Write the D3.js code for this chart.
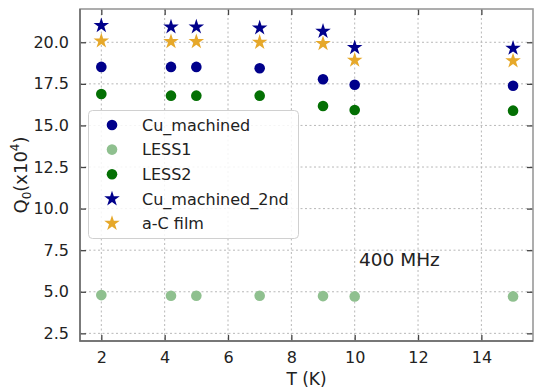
<!DOCTYPE html>
<html><head><meta charset="utf-8">
<script src="https://cdn.jsdelivr.net/npm/d3@7"></script>
<style>body{margin:0;background:#fff;} svg{display:block;font-family:"DejaVu Sans",sans-serif;}</style>
</head><body>
<svg id="c" width="536" height="388"></svg>
<script>
const T = [2, 4.2, 5, 7, 9, 10, 15];
const cuMachined = [18.52, 18.52, 18.52, 18.44, 17.78, 17.45, 17.39];
const less1 = [4.80, 4.76, 4.76, 4.76, 4.74, 4.72, 4.72];
const less2 = [16.89, 16.79, 16.79, 16.79, 16.17, 15.93, 15.89];
const cuMachined2nd = [21.0, 20.92, 20.92, 20.86, 20.66, 19.68, 19.64];
const aCfilm = [20.08, 20.04, 20.04, 20.0, 19.92, 18.92, 18.88];
const xTicks = [2, 4, 6, 8, 10, 12, 14];
const yTicks = [2.5, 5.0, 7.5, 10.0, 12.5, 15.0, 17.5, 20.0];

const series = [
  {name: "Cu_machined", values: cuMachined, color: "#00008b", shape: "circle"},
  {name: "LESS1", values: less1, color: "#8fc08f", shape: "circle"},
  {name: "LESS2", values: less2, color: "#047004", shape: "circle"},
  {name: "Cu_machined_2nd", values: cuMachined2nd, color: "#00008b", shape: "star"},
  {name: "a-C film", values: aCfilm, color: "#e6a82a", shape: "star"}
];

const svg = d3.select("#c");
const L = 80, R = 533, Tp = 9, B = 341;
const x = d3.scaleLinear().domain([1.327, 15.63]).range([L, R]);
const y = d3.scaleLinear().domain([2.04, 22.0]).range([B, Tp]);

// grid
const g = svg.append("g");
g.selectAll(".gx").data(xTicks).join("line")
  .attr("x1", d => x(d)).attr("x2", d => x(d)).attr("y1", Tp).attr("y2", B)
  .attr("stroke", "#b8b8b8").attr("stroke-width", 1).attr("stroke-dasharray", "2,2.5");
g.selectAll(".gy").data(yTicks).join("line")
  .attr("x1", L).attr("x2", R).attr("y1", d => y(d)).attr("y2", d => y(d))
  .attr("stroke", "#b8b8b8").attr("stroke-width", 1).attr("stroke-dasharray", "2,2.5");

// axes with inward ticks
const axB = svg.append("g").attr("transform", `translate(0,${B})`)
  .call(d3.axisBottom(x).tickValues(xTicks).tickFormat(d3.format("d")).tickSizeInner(-6).tickSizeOuter(0).tickPadding(11));
const axL = svg.append("g").attr("transform", `translate(${L},0)`)
  .call(d3.axisLeft(y).tickValues(yTicks).tickFormat(d3.format(".1f")).tickSizeInner(-6).tickSizeOuter(0).tickPadding(11));
const axT = svg.append("g").attr("transform", `translate(0,${Tp})`)
  .call(d3.axisTop(x).tickValues(xTicks).tickFormat("").tickSizeInner(-6).tickSizeOuter(0));
const axR = svg.append("g").attr("transform", `translate(${R},0)`)
  .call(d3.axisRight(y).tickValues(yTicks).tickFormat("").tickSizeInner(-6).tickSizeOuter(0));
[axB, axL, axT, axR].forEach(a => {
  a.select(".domain").remove();
  a.selectAll(".tick line").attr("stroke", "#444").attr("stroke-width", 1.3);
  a.selectAll("text").attr("font-size", 16).attr("fill", "#222").attr("font-family", "DejaVu Sans");
});

// spines
svg.append("rect").attr("x", L).attr("y", Tp).attr("width", R - L).attr("height", B - Tp)
  .attr("fill", "none").attr("stroke", "#999").attr("stroke-width", 1.6);
svg.append("path").attr("d", `M${L},${Tp}V${B}H${R}`).attr("fill", "none").attr("stroke", "#666").attr("stroke-width", 1.4);

// points
const star = d3.symbol().type(d3.symbolStar).size(75);
series.forEach(s => {
  const pts = T.map((t, i) => [t, s.values[i]]);
  if (s.shape === "circle") {
    svg.append("g").selectAll("circle").data(pts).join("circle")
      .attr("cx", d => x(d[0])).attr("cy", d => y(d[1])).attr("r", 5.3).attr("fill", s.color);
  } else {
    svg.append("g").selectAll("path").data(pts).join("path")
      .attr("d", star).attr("transform", d => `translate(${x(d[0])},${y(d[1])})`).attr("fill", s.color);
  }
});

// legend
const lg = svg.append("g");
lg.append("rect").attr("x", 88.5).attr("y", 110.5).attr("width", 210).attr("height", 128).attr("rx", 4)
  .attr("fill", "#fff").attr("fill-opacity", 0.85).attr("stroke", "#d0d0d0").attr("stroke-width", 1);
series.forEach((s, i) => {
  const yy = 125 + i * 24.6;
  if (s.shape === "circle") lg.append("circle").attr("cx", 112).attr("cy", yy).attr("r", 5.3).attr("fill", s.color);
  else lg.append("path").attr("d", star).attr("transform", `translate(112,${yy})`).attr("fill", s.color);
  lg.append("text").attr("x", 142).attr("y", yy).attr("dy", "0.36em").attr("font-size", 16).attr("fill", "#222").text(s.name);
});

// annotation
svg.append("text").attr("x", 359).attr("y", 266).attr("font-size", 18.5).attr("fill", "#222").text("400 MHz");

// axis labels
svg.append("text").attr("x", (L + R) / 2).attr("y", 385).attr("text-anchor", "middle").attr("font-size", 17).attr("fill", "#222").text("T (K)");
const yl = svg.append("text").attr("transform", `translate(27,${(Tp + B) / 2}) rotate(-90)`).attr("text-anchor", "middle").attr("font-size", 18).attr("fill", "#222");
yl.append("tspan").text("Q");
yl.append("tspan").attr("font-size", 12).attr("dy", 4).text("0");
yl.append("tspan").attr("dy", -4).text("(x10");
yl.append("tspan").attr("font-size", 12).attr("dy", -8).text("4");
yl.append("tspan").attr("dy", 8).text(")");
</script>
</body></html>
